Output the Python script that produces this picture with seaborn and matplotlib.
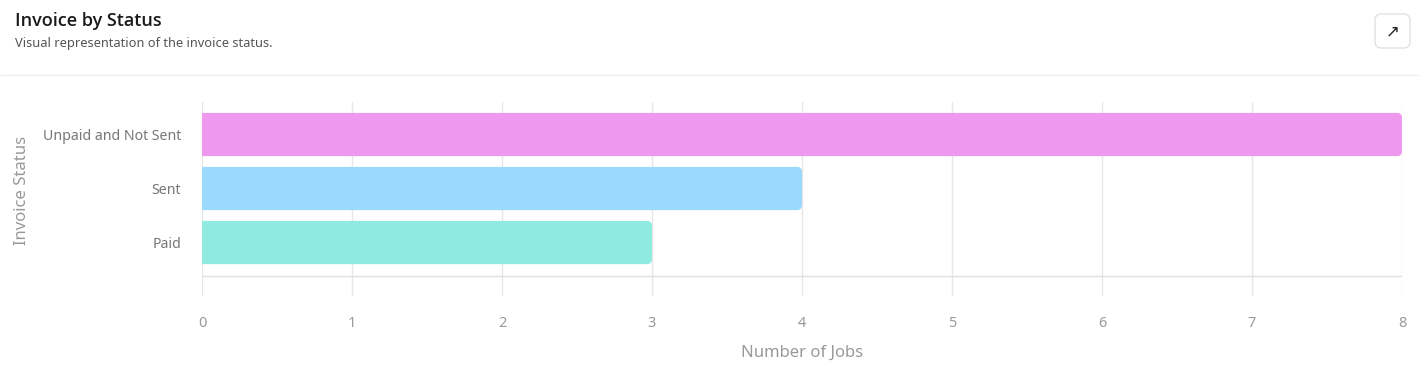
import matplotlib
matplotlib.use("Agg")
import matplotlib.pyplot as plt
from matplotlib.patches import FancyBboxPatch
import seaborn as sns
import pandas as pd

# ---- data ----
statuses = ["Unpaid and Not Sent", "Sent", "Paid"]
jobs = [8, 4, 3]
colors = ["#EE98EE", "#9CD9FF", "#8FEBE0"]
x_ticks = [0, 1, 2, 3, 4, 5, 6, 7, 8]

title = "Invoice by Status"
subtitle = "Visual representation of the invoice status."
x_label = "Number of Jobs"
y_label = "Invoice Status"

sns.set_theme(style="white")
plt.rcParams["font.family"] = ["Noto Sans", "DejaVu Sans"]

W, H = 1420, 372
fig = plt.figure(figsize=(W / 100, H / 100), dpi=100)
fig.patch.set_facecolor("white")

ax_left, ax_right, ax_top, ax_bottom = 202, 1402, 102, 296
ax = fig.add_axes([ax_left / W, 1 - ax_bottom / H,
                   (ax_right - ax_left) / W, (ax_bottom - ax_top) / H])

df = pd.DataFrame({"status": statuses, "jobs": jobs})
sns.barplot(data=df, x="jobs", y="status", hue="status", palette=colors,
            orient="h", width=0.8, legend=False, ax=ax, saturation=1)

ax.set_xlim(0, 8)
ax.set_ylim(2.99, -0.602)

# rounded bar ends
px_per_x = (ax_right - ax_left) / 8
px_per_y = (ax_bottom - ax_top) / (2.99 + 0.602)
r = 5 / px_per_x
for p in list(ax.patches):
    x0, y0, w, h = p.get_x(), p.get_y(), p.get_width(), p.get_height()
    fc = p.get_facecolor()
    p.remove()
    fb = FancyBboxPatch((x0 - 0.1, y0), w + 0.1, h,
                        boxstyle=f"round,pad=0,rounding_size={r}",
                        mutation_aspect=px_per_x / px_per_y,
                        facecolor=fc, edgecolor="none", zorder=2)
    ax.add_patch(fb)

for s in ax.spines.values():
    s.set_visible(False)

ax.set_xticks(x_ticks)
ax.grid(axis="x", color="#E6E6E6", linewidth=1, zorder=0)
ax.grid(axis="y", visible=False)
ax.axhline(2.62, color="#E0E0E0", linewidth=1, zorder=1)

ax.tick_params(axis="x", length=0, pad=14.5, labelsize=10.5, labelcolor="#9A9A9A")
ax.tick_params(axis="y", length=0, pad=15, labelsize=10.2, labelcolor="#777777")
ax.set_xlabel(x_label, fontsize=12, color="#999999", labelpad=10)
ax.set_ylabel(y_label, fontsize=12, color="#999999")
ax.yaxis.set_label_coords((30 - ax_left) / (ax_right - ax_left),
                          (ax_bottom - 190) / (ax_bottom - ax_top))

# header
fig.text(15 / W, 1 - 21 / H, title, fontsize=13, fontweight="semibold",
         color="#1A1A1A", va="center", ha="left",
         family=["Open Sans", "Lato", "DejaVu Sans"])
fig.text(15 / W, 1 - 43 / H, subtitle, fontsize=9.25, color="#555555",
         va="center", ha="left")
fig.add_artist(plt.Line2D([0, 1], [1 - 75 / H, 1 - 75 / H],
                          transform=fig.transFigure, color="#EFEFEF", linewidth=1))

# expand button
btn = FancyBboxPatch((1375 / W, 1 - 48 / H), 35 / W, 34 / H,
                     boxstyle="round,pad=0,rounding_size=0.0045",
                     mutation_aspect=W / H,
                     transform=fig.transFigure, facecolor="white",
                     edgecolor="#E2E2E2", linewidth=1)
fig.add_artist(btn)
fig.text(1392.5 / W, 1 - 31 / H, "\u2197", fontsize=12, color="#222222",
         ha="center", va="center", family=["DejaVu Sans"])

fig.savefig("out.png", dpi=100, facecolor="white")
